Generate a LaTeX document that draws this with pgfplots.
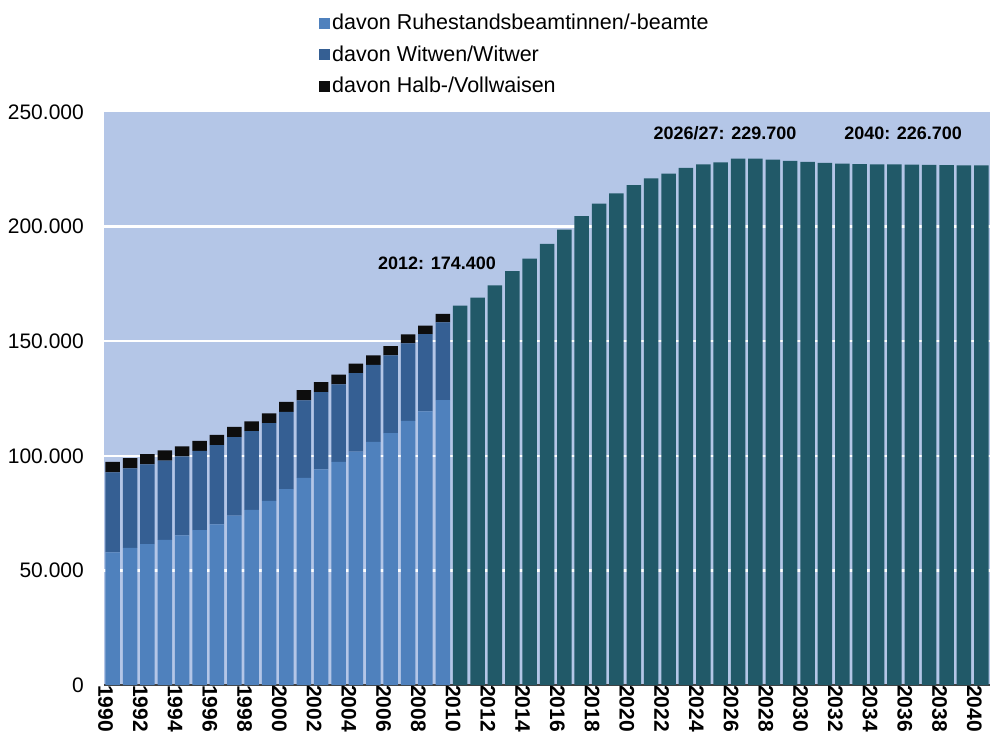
\documentclass[border=0pt]{standalone}
\usepackage{fontspec}
\setmainfont{Liberation Sans}
\usepackage{pgfplots}
\usepackage{pgfplotstable}
\pgfplotsset{compat=1.18}
\definecolor{bgblue}{HTML}{B4C6E7}
\definecolor{cruhe}{HTML}{4F81BD}
\definecolor{cwit}{HTML}{355F93}
\definecolor{chalb}{HTML}{0D0D0D}
\definecolor{cteal}{HTML}{215968}

\pgfplotstableread{
year r w h t
1990 57900 34900 4500 0
1991 59800 34700 4500 0
1992 61500 34800 4400 0
1993 63300 34600 4500 0
1994 65300 34500 4300 0
1995 67600 34500 4400 0
1996 70100 34600 4400 0
1997 73900 34300 4400 0
1998 76400 34400 4200 0
1999 80300 34000 4200 0
2000 85500 33700 4300 0
2001 90400 33800 4400 0
2002 94100 33700 4300 0
2003 97300 33900 4200 0
2004 101800 34300 4100 0
2005 106100 33600 4100 0
2006 109900 33900 4000 0
2007 115200 33900 3900 0
2008 119400 33700 3700 0
2009 124300 33900 3700 0
2010 0 0 0 165500
2011 0 0 0 169000
2012 0 0 0 174400
2013 0 0 0 180600
2014 0 0 0 186000
2015 0 0 0 192500
2016 0 0 0 198700
2017 0 0 0 204600
2018 0 0 0 210000
2019 0 0 0 214500
2020 0 0 0 218100
2021 0 0 0 221000
2022 0 0 0 223100
2023 0 0 0 225600
2024 0 0 0 227100
2025 0 0 0 228000
2026 0 0 0 229700
2027 0 0 0 229700
2028 0 0 0 229200
2029 0 0 0 228700
2030 0 0 0 228200
2031 0 0 0 227800
2032 0 0 0 227500
2033 0 0 0 227300
2034 0 0 0 227200
2035 0 0 0 227100
2036 0 0 0 227000
2037 0 0 0 226900
2038 0 0 0 226800
2039 0 0 0 226700
2040 0 0 0 226700
}\data

\begin{document}
\begin{tikzpicture}
\begin{axis}[
  scale only axis, width=886bp, height=573bp,
  at={(0,0)}, anchor=south west,
  ybar stacked, bar width=14.5bp,
  xmin=1989.5, xmax=2040.5, ymin=0, ymax=250000,
  axis background/.style={fill=bgblue},
  axis x line*=bottom, axis y line*=left,
  x axis line style={-, draw=black!75, line width=1.3bp},
  y axis line style={draw=none},
  xtick={1990,1992,...,2040},
  ytick={0,50000,100000,150000,200000},
  extra y ticks={250000}, extra y tick style={grid=none},
  major tick length=0pt,
  ymajorgrids, grid style={white, line width=2.5bp},
  scaled y ticks=false,
  /pgf/number format/fixed,
  /pgf/number format/precision=0,
  /pgf/number format/1000 sep={.},
  /pgf/number format/assume math mode=true,
  yticklabel style={font=\fontsize{21bp}{24bp}\selectfont, inner sep=0pt, xshift=-20bp, anchor=east},
  xticklabel style={/pgf/number format/1000 sep={}, font=\fontsize{21bp}{24bp}\selectfont\bfseries, rotate=-90, anchor=west, inner sep=0pt, yshift=-7bp},
  legend style={at={(axis description cs:0.2427,1.1736)}, anchor=north west, draw=none, fill=none, inner sep=0pt, row sep=8.5bp,
    font=\fontsize{21.5bp}{24bp}\selectfont, nodes={inner sep=2bp, text height=15bp, text depth=4bp, anchor=west}},
  legend cell align=left,
]
\addplot[fill=cruhe, draw=none, legend image code/.code={\fill[cruhe] (0bp,-4.5bp) rectangle (11bp,6.5bp);}] table[x=year,y=r]{\data};
\addplot[fill=cwit, draw=none, legend image code/.code={\fill[cwit] (0bp,-4.5bp) rectangle (11bp,6.5bp);}] table[x=year,y=w]{\data};
\addplot[fill=chalb, draw=none, legend image code/.code={\fill[chalb] (0bp,-4.5bp) rectangle (11bp,6.5bp);}] table[x=year,y=h]{\data};
\addplot[fill=cteal, draw=none] table[x=year,y=t]{\data};
\legend{davon Ruhestandsbeamtinnen/-beamte, davon Witwen/Witwer, davon Halb-/Vollwaisen}
\node[font=\fontsize{18bp}{20bp}\selectfont\bfseries] at (axis cs:2008.67,184100) {2012: 174.400};
\node[font=\fontsize{18bp}{20bp}\selectfont\bfseries] at (axis cs:2025.25,240800) {2026/27: 229.700};
\node[font=\fontsize{18bp}{20bp}\selectfont\bfseries] at (axis cs:2035.5,240800) {2040: 226.700};
\end{axis}
\pgfresetboundingbox
\path[use as bounding box] (-104bp,-52bp) rectangle (886bp,685bp);
\end{tikzpicture}
\end{document}
